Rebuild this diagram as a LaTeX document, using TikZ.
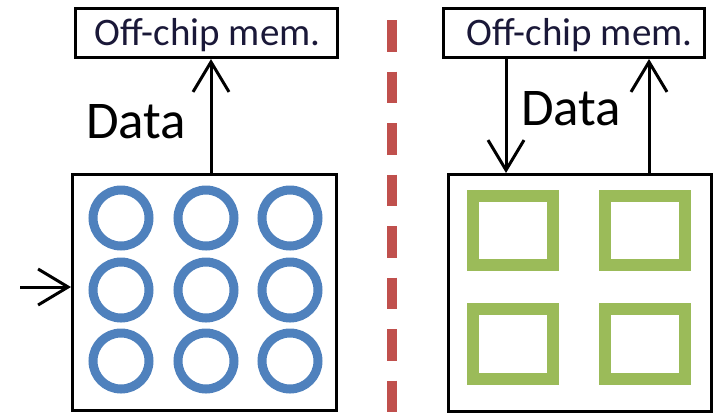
\documentclass[tikz,border=0pt]{standalone}
\usepackage{fontspec}
\setmainfont{Carlito}
\usetikzlibrary{arrows.meta}
\definecolor{ringblue}{HTML}{4F81BD}
\definecolor{tilegreen}{HTML}{9BBB59}
\definecolor{splitred}{HTML}{C0504D}
\definecolor{labelblue}{HTML}{1A1838}
\tikzset{
  membox/.style={draw, line width=3pt, minimum width=262pt, minimum height=49pt, inner sep=0pt},
  chipbox/.style={draw, line width=3pt, inner sep=0pt},
  memtext/.style={font=\fontsize{39}{42}\selectfont, text=labelblue, anchor=base, inner sep=0pt},
  datatext/.style={font=\fontsize{53}{56}\selectfont, anchor=base west, inner sep=0pt},
  flow/.style={line width=3pt, -{Straight Barb[length=30pt, width=36pt]}},
  ring/.style={draw=ringblue, line width=9pt},
  tile/.style={draw=tilegreen, line width=12pt},
  divider/.style={draw=splitred, line width=10pt, dash pattern=on 31.5pt off 20pt}
}
\begin{document}
\begin{tikzpicture}[x=1pt, y=-1pt]
  \useasboundingbox (0,0) rectangle (715,416);

  % left half: circular processing elements
  \node[membox] (memL) at (206.5,33) {};
  \node[memtext] (memLtext) at (207.5,45) {Off-chip mem.};
  \node[chipbox, minimum width=264pt, minimum height=236pt] (chipL) at (204.5,292.5) {};
  \foreach \cx in {121,206,290}
    \foreach \cy in {218,290,361}
      \draw[ring] (\cx,\cy) circle (28);
  \coordinate (upL) at (211,0);
  \draw[flow] (chipL.north -| upL) -- (memL.south -| upL);
  \node[datatext] (dataL) at (86,138) {Data};
  \coordinate (feed) at (20,287);
  \draw[flow] (feed) -- (feed -| chipL.west);

  % divider
  \draw[divider] (392,20) -- (392,416);

  % right half: square tiles
  \node[membox, minimum width=261pt] (memR) at (574,33) {};
  \node[memtext] (memRtext) at (579.5,45) {Off-chip mem.};
  \node[chipbox, minimum width=263pt, minimum height=237pt] (chipR) at (580,293) {};
  \foreach \tx in {473,605}
    \foreach \ty in {195.5,309}
      \draw[tile] (\tx,\ty) rectangle ++(80,69.5);
  \coordinate (downR) at (506,0);
  \coordinate (upR) at (649,0);
  \draw[flow] (memR.south -| downR) -- (chipR.north -| downR);
  \draw[flow] (chipR.north -| upR) -- (memR.south -| upR);
  \node[datatext] (dataR) at (521,125) {Data};
\end{tikzpicture}
\end{document}
